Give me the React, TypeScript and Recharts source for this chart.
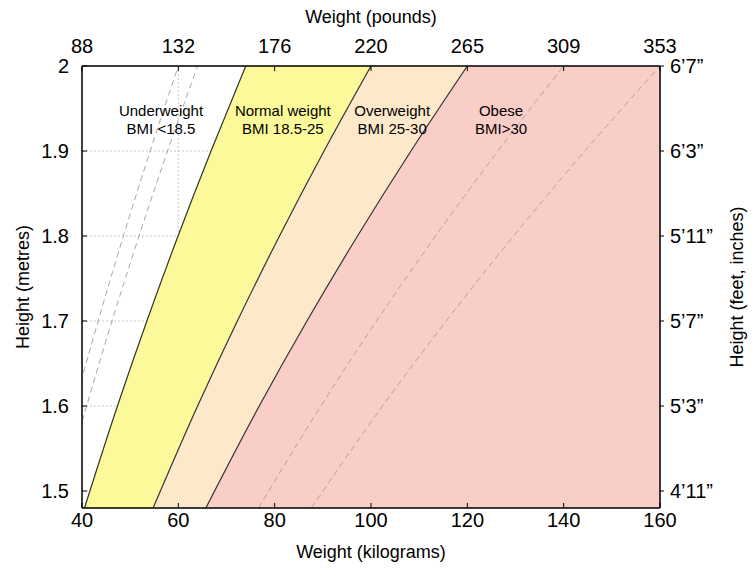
import React from 'react';
import {
  ComposedChart,
  Area,
  Line,
  XAxis,
  YAxis,
  CartesianGrid,
  ReferenceDot,
  Label
} from 'recharts';

// heights (m) and the weight (kg) on each BMI boundary at that height
const heights = [1.48, 1.6, 1.7, 1.8, 1.9, 2.0];
const bmi15 = [32.86, 38.4, 43.35, 48.6, 54.15, 60];
const bmi16 = [35.05, 40.96, 46.24, 51.84, 57.76, 64];
const bmi185 = [40.52, 47.36, 53.47, 59.94, 66.79, 74];
const bmi25 = [54.76, 64, 72.25, 81, 90.25, 100];
const bmi30 = [65.71, 76.8, 86.7, 97.2, 108.3, 120];
const bmi35 = [76.66, 89.6, 101.15, 113.4, 126.35, 140];
const bmi40 = [87.62, 102.4, 115.6, 129.6, 144.4, 160];

const kgTicks = [40, 60, 80, 100, 120, 140, 160];
const lbLabels = ['88', '132', '176', '220', '265', '309', '353'];
const mTicks = [1.5, 1.6, 1.7, 1.8, 1.9, 2.0];
const ftLabels = ['4\u201911\u201d', '5\u20193\u201d', '5\u20197\u201d', '5\u201911\u201d', '6\u20193\u201d', '6\u20197\u201d'];

const zoneNames = ['Underweight', 'Normal weight', 'Overweight', 'Obese'];
const zoneBmi = ['BMI <18.5', 'BMI 18.5-25', 'BMI 25-30', 'BMI>30'];
const zoneX = [56.4, 81.7, 104.4, 127];
const zoneY = 1.936;

const data = heights.map((h, i) => ({
  h,
  w15: bmi15[i],
  w16: bmi16[i],
  w185: bmi185[i],
  w25: bmi25[i],
  w30: bmi30[i],
  w35: bmi35[i],
  w40: bmi40[i]
}));

const font = '"Liberation Sans", Arial, sans-serif';
const tickStyle = { fill: '#000', fontSize: 20, fontFamily: font };
const titleStyle = { fill: '#000', fontSize: 18, fontFamily: font };

const ZoneText = (name: string, bmi: string) => (props: any) => (
  <g>
    <text x={props.cx} y={props.cy - 4} textAnchor="middle" fontSize={15} fontFamily={font} fill="#000">
      {name}
    </text>
    <text x={props.cx} y={props.cy + 14} textAnchor="middle" fontSize={15} fontFamily={font} fill="#000">
      {bmi}
    </text>
  </g>
);

const App: React.FC = () => {
  return (
    <div style={{ position: 'absolute', left: 0, top: 0, background: '#fff' }}>
      <ComposedChart
        width={756}
        height={574}
        data={data}
        layout="vertical"
        margin={{ top: 0, right: 0, bottom: 0, left: 0 }}
      >
        <XAxis
          xAxisId="kg"
          type="number"
          orientation="bottom"
          domain={[40, 160]}
          ticks={kgTicks}
          allowDataOverflow
          height={66}
          tick={tickStyle}
          tickSize={-5}
          tickMargin={10}
          axisLine={{ stroke: '#000', strokeWidth: 1.5 }}
          tickLine={{ stroke: '#000' }}
        >
          <Label value="Weight (kilograms)" position="insideBottom" offset={16} style={titleStyle} />
        </XAxis>
        <XAxis
          xAxisId="lb"
          type="number"
          orientation="top"
          domain={[40, 160]}
          ticks={kgTicks}
          allowDataOverflow
          height={66}
          tick={tickStyle}
          tickSize={-5}
          tickMargin={18}
          tickFormatter={(v: number) => lbLabels[kgTicks.indexOf(v)]}
          axisLine={{ stroke: '#000', strokeWidth: 1.5 }}
          tickLine={{ stroke: '#000' }}
        >
          <Label value="Weight (pounds)" position="insideTop" offset={10} style={titleStyle} />
        </XAxis>
        <YAxis
          yAxisId="m"
          dataKey="h"
          type="number"
          orientation="left"
          domain={[1.48, 2]}
          ticks={mTicks}
          allowDataOverflow
          reversed
          width={82}
          tick={tickStyle}
          tickSize={-5}
          tickMargin={18}
          tickFormatter={(v: number) => String(v)}
          axisLine={{ stroke: '#000', strokeWidth: 1.5 }}
          tickLine={{ stroke: '#000' }}
        >
          <Label
            value="Height (metres)"
            position="insideLeft"
            angle={-90}
            offset={23}
            style={{ ...titleStyle, textAnchor: 'middle' }}
          />
        </YAxis>
        <YAxis
          yAxisId="ft"
          dataKey="h"
          type="number"
          orientation="right"
          domain={[1.48, 2]}
          ticks={mTicks}
          allowDataOverflow
          reversed
          width={96}
          tick={tickStyle}
          tickSize={4}
          tickMargin={6}
          tickFormatter={(v: number) => ftLabels[mTicks.indexOf(v)]}
          axisLine={{ stroke: '#000', strokeWidth: 1.5 }}
          tickLine={{ stroke: '#000' }}
        >
          <Label
            value="Height (feet, inches)"
            position="insideRight"
            angle={-90}
            offset={19}
            style={{ ...titleStyle, textAnchor: 'middle' }}
          />
        </YAxis>

        <Area
          xAxisId="kg"
          yAxisId="m"
          type="monotone"
          dataKey={(d: any) => [d.w185, d.w25]}
          fill="#fbf99a"
          fillOpacity={1}
          stroke="none"
          isAnimationActive={false}
        />
        <Area
          xAxisId="kg"
          yAxisId="m"
          type="monotone"
          dataKey={(d: any) => [d.w25, d.w30]}
          fill="#fde9c9"
          fillOpacity={1}
          stroke="none"
          isAnimationActive={false}
        />
        <Area
          xAxisId="kg"
          yAxisId="m"
          type="monotone"
          dataKey={(d: any) => [d.w30, 160]}
          fill="#f9cdc8"
          fillOpacity={1}
          stroke="none"
          isAnimationActive={false}
        />

        <CartesianGrid xAxisId="kg" yAxisId="m" stroke="#c8c8c8" strokeDasharray="2 2" />

        {['w15', 'w16', 'w35', 'w40'].map(k => (
          <Line
            key={k}
            xAxisId="kg"
            yAxisId="m"
            type="monotone"
            dataKey={k}
            stroke="#a8a8a8"
            strokeWidth={1}
            strokeDasharray="6 4"
            dot={false}
            activeDot={false}
            isAnimationActive={false}
          />
        ))}
        {['w185', 'w25', 'w30'].map(k => (
          <Line
            key={k}
            xAxisId="kg"
            yAxisId="m"
            type="monotone"
            dataKey={k}
            stroke="#333"
            strokeWidth={1.2}
            dot={false}
            activeDot={false}
            isAnimationActive={false}
          />
        ))}

        {zoneNames.map((name, i) => (
          <ReferenceDot
            key={name}
            xAxisId="kg"
            yAxisId="m"
            x={zoneX[i]}
            y={zoneY}
            r={0}
            shape={ZoneText(name, zoneBmi[i])}
          />
        ))}
      </ComposedChart>
    </div>
  );
};

export default App;
